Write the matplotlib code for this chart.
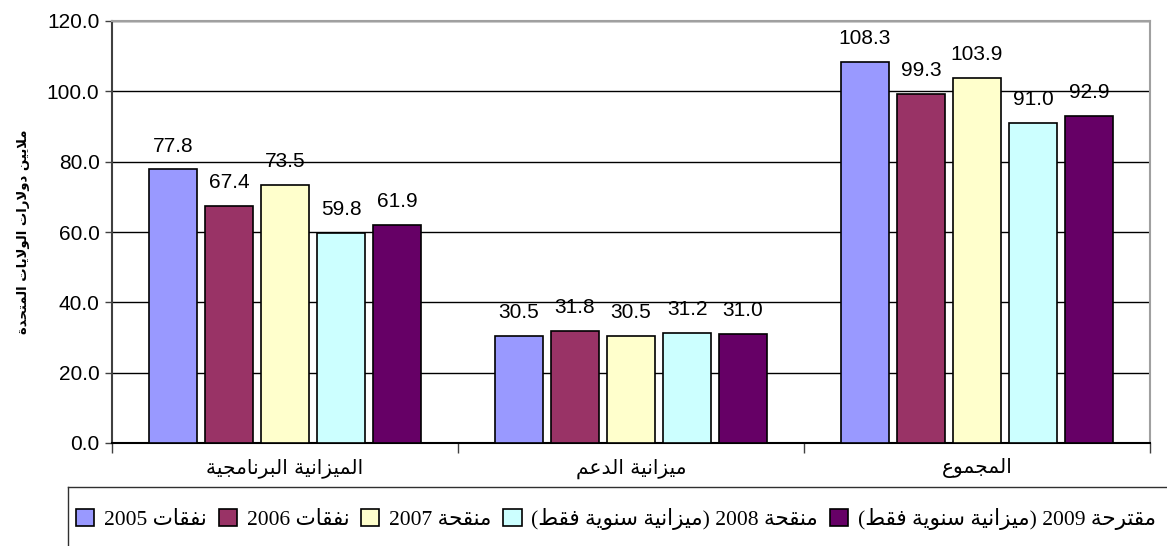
import re
import matplotlib
matplotlib.use("Agg")
import matplotlib.pyplot as plt
from matplotlib.lines import Line2D

# ---------------- data ----------------
categories = ["الميزانية البرنامجية", "ميزانية الدعم", "المجموع"]
series_names = ["نفقات 2005", "نفقات 2006", "منقحة 2007",
                "منقحة 2008 (ميزانية سنوية فقط)", "مقترحة 2009 (ميزانية سنوية فقط)"]
values_2005 = [77.8, 30.5, 108.3]
values_2006 = [67.4, 31.8, 99.3]
values_2007 = [73.5, 30.5, 103.9]
values_2008 = [59.8, 31.2, 91.0]
values_2009 = [61.9, 31.0, 92.9]
y_ticks = [0, 20, 40, 60, 80, 100, 120]
y_label = "ملايين دولارات الولايات المتحدة"

series_values = [values_2005, values_2006, values_2007, values_2008, values_2009]
colors = ["#9999FF", "#993366", "#FFFFCC", "#CCFFFF", "#660066"]

# ---------------- minimal Arabic shaping (presentation forms) ----------------
FORMS = {
    '\u0627': ('\uFE8D', '\uFE8E', None, None),
    '\u0628': ('\uFE8F', '\uFE90', '\uFE91', '\uFE92'),
    '\u0629': ('\uFE93', '\uFE94', None, None),
    '\u062A': ('\uFE95', '\uFE96', '\uFE97', '\uFE98'),
    '\u062C': ('\uFE9D', '\uFE9E', '\uFE9F', '\uFEA0'),
    '\u062D': ('\uFEA1', '\uFEA2', '\uFEA3', '\uFEA4'),
    '\u062F': ('\uFEA9', '\uFEAA', None, None),
    '\u0631': ('\uFEAD', '\uFEAE', None, None),
    '\u0632': ('\uFEAF', '\uFEB0', None, None),
    '\u0633': ('\uFEB1', '\uFEB2', '\uFEB3', '\uFEB4'),
    '\u0637': ('\uFEC1', '\uFEC2', '\uFEC3', '\uFEC4'),
    '\u0639': ('\uFEC9', '\uFECA', '\uFECB', '\uFECC'),
    '\u0641': ('\uFED1', '\uFED2', '\uFED3', '\uFED4'),
    '\u0642': ('\uFED5', '\uFED6', '\uFED7', '\uFED8'),
    '\u0644': ('\uFEDD', '\uFEDE', '\uFEDF', '\uFEE0'),
    '\u0645': ('\uFEE1', '\uFEE2', '\uFEE3', '\uFEE4'),
    '\u0646': ('\uFEE5', '\uFEE6', '\uFEE7', '\uFEE8'),
    '\u0648': ('\uFEED', '\uFEEE', None, None),
    '\u064A': ('\uFEF1', '\uFEF2', '\uFEF3', '\uFEF4'),
}


def shape(text):
    chars = list(text)
    out = []
    i = 0
    while i < len(chars):
        c = chars[i]
        if c not in FORMS:
            out.append(c)
            i += 1
            continue
        prev = chars[i - 1] if i > 0 else None
        joins_prev = prev in FORMS and FORMS[prev][2] is not None
        nxt = chars[i + 1] if i + 1 < len(chars) else None
        if c == '\u0644' and nxt == '\u0627':
            out.append('\uFEFC' if joins_prev else '\uFEFB')
            i += 2
            continue
        joins_next = FORMS[c][2] is not None and nxt in FORMS
        iso, fin, ini, med = FORMS[c]
        if joins_prev and joins_next:
            out.append(med)
        elif joins_prev:
            out.append(fin)
        elif joins_next:
            out.append(ini)
        else:
            out.append(iso)
        i += 1
    return ''.join(out)


def visual(text):
    s = shape(text)[::-1]
    s = re.sub(r'[0-9.]+', lambda m: m.group(0)[::-1], s)
    return s.translate(str.maketrans('()', ')('))


# ---------------- figure ----------------
W, H = 1167, 546
fig = plt.figure(figsize=(W / 100, H / 100), dpi=100)
ax = fig.add_axes([112 / W, 1 - 443 / H, (1150 - 112) / W, (443 - 21) / H])

step = 0.162
width = 0.139
x = list(range(len(categories)))
containers = []
for j, (vals, col) in enumerate(zip(series_values, colors)):
    pos = [xi + (j - 2) * step for xi in x]
    bc = ax.bar(pos, vals, width=width, color=col, edgecolor="black",
                linewidth=1.2, zorder=3, label=visual(series_names[j]))
    containers.append(bc)
    ax.bar_label(bc, fmt="%.1f", padding=10, fontsize=15,
                 family="Liberation Sans", color="black")

ax.set_xlim(-0.5, 2.5)
ax.set_ylim(0, 120)
ax.set_yticks(y_ticks)
ax.set_yticklabels([f"{v:.1f}" for v in y_ticks], family="Liberation Sans", fontsize=15)
ax.yaxis.grid(True, color="black", linewidth=1, zorder=0)
ax.tick_params(axis="y", direction="out", length=5, width=1, color="#404040", pad=4)

# boundaries as major ticks, category names as minor ticks
ax.set_xticks([-0.5, 0.5, 1.5, 2.5])
ax.set_xticklabels([])
ax.tick_params(axis="x", which="major", direction="out", length=7, width=1, color="#404040")
ax.set_xticks(x, minor=True)
ax.set_xticklabels([visual(c) for c in categories], minor=True,
                   family=["DejaVu Sans"], fontsize=14.5)
ax.tick_params(axis="x", which="minor", length=0, pad=11)

for side in ("top", "right"):
    ax.spines[side].set_color("#A0A0A0")
    ax.spines[side].set_linewidth(1.5)
ax.spines["left"].set_color("#404040")
ax.spines["left"].set_linewidth(1.5)
ax.spines["bottom"].set_color("black")
ax.spines["bottom"].set_linewidth(1.5)

ax.set_ylabel(visual(y_label), family="DejaVu Sans", fontweight="bold", fontsize=9.5,
              labelpad=12)

# legend
fig.legend(handles=containers, labels=[visual(n) for n in series_names],
           ncol=5, loc="center left", bbox_to_anchor=(76 / W, 1 - 519 / H),
           frameon=False, handlelength=0.85, handleheight=0.85,
           handletextpad=0.45, columnspacing=0.55, borderpad=0, borderaxespad=0,
           prop={"family": ["Liberation Serif", "DejaVu Sans"], "size": 15.5})
fig.add_artist(Line2D([68 / W, 1.0], [1 - 487 / H, 1 - 487 / H],
                      transform=fig.transFigure, color="#303030", linewidth=1))
fig.add_artist(Line2D([68 / W, 68 / W], [1 - 487 / H, 0.0],
                      transform=fig.transFigure, color="#303030", linewidth=1))

fig.savefig("out.png", dpi=100)
